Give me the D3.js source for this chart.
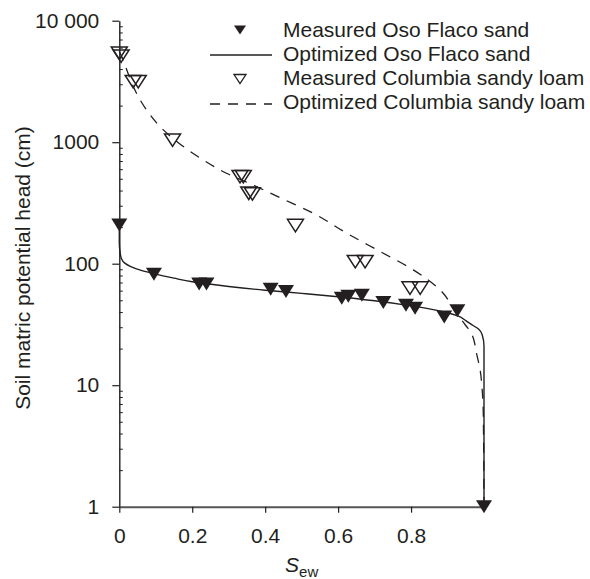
<!DOCTYPE html>
<html>
<head>
<meta charset="utf-8">
<script src="https://cdn.jsdelivr.net/npm/d3@7"></script>
<style>
  body { margin: 0; background: #fff; }
  svg { display: block; }
</style>
</head>
<body>
<svg id="chart" width="590" height="579"></svg>
<script>
// measured points, Oso Flaco sand (filled triangles)
const sOso = [0, 0.095, 0.219, 0.239, 0.415, 0.457, 0.61, 0.628, 0.665, 0.724, 0.786, 0.811, 0.891, 0.927, 1.0]
const hOso = [208, 82, 68, 68, 61.5, 59, 52, 54, 55, 48, 45.5, 43, 36.5, 41, 1]

// measured points, Columbia sandy loam (open triangles)
const sCol = [0, 0.005, 0.038, 0.052, 0.146, 0.331, 0.34, 0.355, 0.365, 0.483, 0.647, 0.674, 0.797, 0.825]
const hCol = [5400, 5100, 3150, 3150, 1040, 520, 520, 380, 375, 206, 104, 104, 63, 63]

// optimized curves
const sOsoFit = [0, 0, 0.002, 0.006, 0.015, 0.03, 0.06, 0.1, 0.15, 0.2, 0.3, 0.4, 0.5, 0.6, 0.7, 0.8, 0.85, 0.9, 0.93, 0.95, 0.97, 0.985, 0.995, 1.0, 1.0]
const hOsoFit = [210, 150, 125, 110, 101, 95, 88, 82, 76, 71, 65, 60.5, 57, 53.5, 49.5, 45, 42.5, 39.5, 37, 34, 31, 29, 26, 21, 1]

const sColFit = [0, 0.011, 0.03, 0.051, 0.08, 0.112, 0.16, 0.222, 0.294, 0.37, 0.44, 0.532, 0.624, 0.715, 0.806, 0.879, 0.925, 0.95, 0.966, 0.98, 0.99, 0.994, 0.998, 1.0]
const hColFit = [5600, 4700, 3300, 2400, 1750, 1340, 1000, 740, 555, 440, 350, 260, 178, 126, 89, 61, 39, 31, 26.5, 18, 13, 10, 5.9, 1]

const xTicks = [0, 0.2, 0.4, 0.6, 0.8]
const xTickLabels = ['0', '0.2', '0.4', '0.6', '0.8']
const yTicks = [1, 10, 100, 1000, 10000]
const yTickLabels = ['1', '10', '100', '1000', '10 000']
const legendLabels = [
  'Measured Oso Flaco sand',
  'Optimized Oso Flaco sand',
  'Measured Columbia sandy loam',
  'Optimized Columbia sandy loam'
]

const ink = '#231f20'
const font = '"Liberation Sans", Arial, Helvetica, sans-serif'

const svg = d3.select('#chart')
svg.append('rect').attr('width', 590).attr('height', 579).attr('fill', '#fff')

const x = d3.scaleLinear().domain([0, 1]).range([119.3, 484])
const y = d3.scaleLog().domain([1, 10000]).range([506.7, 20.7])

// minor ticks on the log axis, pointing inwards
const minorTicks = []
for (let dec = 1; dec < 10000; dec *= 10) {
  for (let k = 2; k < 10; k++) minorTicks.push(dec * k)
}

const yMinor = svg.append('g')
  .attr('transform', `translate(${x(0)},0)`)
  .call(d3.axisLeft(y).tickValues(minorTicks).tickSize(-3.5).tickFormat(''))
yMinor.select('.domain').remove()
yMinor.selectAll('line').attr('stroke', ink).attr('stroke-width', 1)

const yAxis = svg.append('g')
  .attr('transform', `translate(${x(0)},0)`)
  .call(
    d3.axisLeft(y)
      .tickValues(yTicks)
      .tickFormat((d, i) => yTickLabels[i])
      .tickSize(7)
      .tickSizeOuter(0)
      .tickPadding(13)
  )
yAxis.select('.domain').attr('stroke', ink).attr('stroke-width', 1.4)
yAxis.selectAll('line').attr('stroke', ink).attr('stroke-width', 1.2)
yAxis.selectAll('text')
  .attr('font-family', font)
  .attr('font-size', 21)
  .attr('fill', ink)

const xAxis = svg.append('g')
  .attr('transform', `translate(0,${y(1)})`)
  .call(
    d3.axisBottom(x)
      .tickValues(xTicks)
      .tickFormat((d, i) => xTickLabels[i])
      .tickSize(6)
      .tickSizeOuter(0)
      .tickPadding(15)
  )
xAxis.select('.domain').attr('stroke', '#555').attr('stroke-width', 2)
xAxis.selectAll('line').attr('stroke', ink).attr('stroke-width', 1.2)
xAxis.selectAll('text')
  .attr('font-family', font)
  .attr('font-size', 21)
  .attr('fill', ink)

// axis titles
svg.append('text')
  .attr('transform', `translate(30,268) rotate(-90)`)
  .attr('text-anchor', 'middle')
  .attr('font-family', font)
  .attr('font-size', 21)
  .attr('fill', ink)
  .text('Soil matric potential head (cm)')

const xt = svg.append('text')
  .attr('x', (x(0) + x(1)) / 2)
  .attr('y', 572)
  .attr('text-anchor', 'middle')
  .attr('font-family', font)
  .attr('fill', ink)
xt.append('tspan').attr('font-size', 21).attr('font-style', 'italic').text('S')
xt.append('tspan').attr('font-size', 15).attr('dy', 5).text('ew')

// curves
const line = d3.line()
  .x(d => x(d[0]))
  .y(d => y(d[1]))
  .curve(d3.curveMonotoneY)

svg.append('path')
  .datum(d3.zip(sColFit, hColFit))
  .attr('d', line)
  .attr('fill', 'none')
  .attr('stroke', ink)
  .attr('stroke-width', 1.3)
  .attr('stroke-dasharray', '10,8')

svg.append('path')
  .datum(d3.zip(sOsoFit, hOsoFit))
  .attr('d', line)
  .attr('fill', 'none')
  .attr('stroke', ink)
  .attr('stroke-width', 1.4)

// downward triangle marker
function tri (w, h) {
  return `M${-w / 2},${-h / 2}L${w / 2},${-h / 2}L0,${h / 2}Z`
}

svg.append('g')
  .selectAll('path')
  .data(d3.zip(sCol, hCol))
  .join('path')
  .attr('transform', d => `translate(${x(d[0])},${y(d[1])})`)
  .attr('d', tri(16, 12.5))
  .attr('fill', 'none')
  .attr('stroke', ink)
  .attr('stroke-width', 1.5)

svg.append('g')
  .selectAll('path')
  .data(d3.zip(sOso, hOso))
  .join('path')
  .attr('transform', d => `translate(${x(d[0])},${y(d[1])})`)
  .attr('d', tri(16, 13))
  .attr('fill', ink)

// legend
const legend = svg.append('g').attr('font-family', font).attr('font-size', 21).attr('fill', ink)
const rowY = [30, 54, 78, 102]

legend.selectAll('text')
  .data(legendLabels)
  .join('text')
  .attr('x', 283)
  .attr('y', (d, i) => rowY[i] + 7)
  .text(d => d)

legend.append('path')
  .attr('transform', `translate(240,${rowY[0]})`)
  .attr('d', tri(12, 9))
  .attr('fill', ink)
legend.append('line')
  .attr('x1', 210).attr('x2', 272)
  .attr('y1', rowY[1] + 1).attr('y2', rowY[1] + 1)
  .attr('stroke', ink).attr('stroke-width', 1.4)
legend.append('path')
  .attr('transform', `translate(240,${rowY[2] + 1})`)
  .attr('d', tri(12, 9))
  .attr('fill', 'none')
  .attr('stroke', ink)
  .attr('stroke-width', 1.3)
legend.append('line')
  .attr('x1', 210).attr('x2', 272)
  .attr('y1', rowY[3] + 2).attr('y2', rowY[3] + 2)
  .attr('stroke', ink).attr('stroke-width', 1.3)
  .attr('stroke-dasharray', '10,8')
</script>
</body>
</html>
